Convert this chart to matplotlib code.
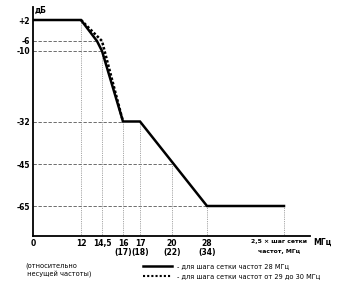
import numpy as np
import matplotlib
matplotlib.use("Agg")
import matplotlib.pyplot as plt
from matplotlib.lines import Line2D

# ---- data ----
solid_x = [0, 12, 13.9, 14.5, 16, 17, 28, 70]
solid_y = [2, 2, -6, -10, -32, -32, -65, -65]
dotted_x = [12, 14.5, 16]
dotted_y = [2, -6, -32]

x_ticks = [0, 12, 14.5, 16, 17, 20, 28, 70]
x_labels = ["0", "12", "14,5", "16\n(17)", "17\n(18)", "20\n(22)", "28\n(34)", ""]
y_ticks = [2, -6, -10, -32, -45, -65]
y_labels = ["+2", "-6", "-10", "-32", "-45", "-65"]

# horizontal guide lines: (level, x end)
h_guides = [(-6, 13.9), (-10, 14.5), (-32, 16), (-45, 20), (-65, 28)]
# vertical guide lines: (x, y top)
v_guides = [(12, 2), (14.5, -6), (16, -32), (17, -32), (20, -45), (28, -65), (70, -65)]

legend_labels = ["- для шага сетки частот 28 МГц",
                 "- для шага сетки частот от 29 до 30 МГц"]

# ---- piecewise scales (non-uniform axes as in the original) ----
xk = np.array([0, 12, 14.5, 16, 17, 20, 28, 70, 80], float)
xp = np.array([0, 48, 69, 90, 107, 139, 174, 251, 277], float)
yk = np.array([-80, -65, -45, -32, -10, -6, 2, 8], float)
yp = np.array([0, 30, 72, 114.5, 185, 195, 216, 229], float)

fx = lambda v: np.interp(v, xk, xp)
ifx = lambda v: np.interp(v, xp, xk)
fy = lambda v: np.interp(v, yk, yp)
ify = lambda v: np.interp(v, yp, yk)

fig = plt.figure(figsize=(3.4, 2.88), dpi=100)
ax = fig.add_axes([33/340, (288-236)/288, 277/340, 229/288])
ax.set_xscale('function', functions=(fx, ifx))
ax.set_yscale('function', functions=(fy, ify))
ax.set_xlim(0, 80)
ax.set_ylim(-80, 8)

gcol = '#555555'
for lvl, xe in h_guides:
    ax.plot([0, xe], [lvl, lvl], ls=(0, (4, 2)), color=gcol, lw=0.6, zorder=1)
for xv, yt in v_guides:
    ax.plot([xv, xv], [-80, yt], ls=(0, (1, 1.2)), color='#888888', lw=0.6, zorder=1)

ax.plot(dotted_x, dotted_y, ls=(0, (1, 0.8)), color='black', lw=1.8, zorder=2)
ax.plot(solid_x, solid_y, color='black', lw=1.8, zorder=3, solid_joinstyle='miter')

for s in ['top', 'right']:
    ax.spines[s].set_visible(False)
ax.spines['left'].set_linewidth(1.3)
ax.spines['bottom'].set_linewidth(1.3)

ax.set_xticks(x_ticks)
ax.set_xticklabels(x_labels, fontsize=5.5, fontweight='bold', linespacing=1.1)
ax.set_yticks(y_ticks)
ax.set_yticklabels(y_labels, fontsize=5.5, fontweight='bold')
ax.tick_params(length=0, pad=2)
ax.minorticks_off()

fig.text(35/340, 1 - 10/288, "дБ", fontsize=5.5, fontweight='bold', ha='left', va='center')
fig.text(313/340, 1 - 242/288, "МГц", fontsize=5.5, fontweight='bold', ha='left', va='center')
fig.text(279/340, 1 - 242/288, "2,5 × шаг сетки", fontsize=4.4, fontweight='bold', ha='center', va='center')
fig.text(279/340, 1 - 252/288, "частот, МГц", fontsize=4.4, fontweight='bold', ha='center', va='center')

fig.text(25/340, 1 - 270/288, "(относительно\n несущей частоты)", fontsize=4.8, ha='left', va='center',
         linespacing=1.3)
fig.add_artist(Line2D([143/340, 172/340], [1 - 266/288, 1 - 266/288], color='black', lw=1.8))
fig.add_artist(Line2D([143/340, 172/340], [1 - 276/288, 1 - 276/288], color='black', lw=1.5,
                      ls=(0, (1, 1))))
fig.text(177/340, 1 - 266/288, legend_labels[0], fontsize=4.8, ha='left', va='center')
fig.text(177/340, 1 - 276/288, legend_labels[1], fontsize=4.8, ha='left', va='center')

fig.savefig("out.png", dpi=100)
